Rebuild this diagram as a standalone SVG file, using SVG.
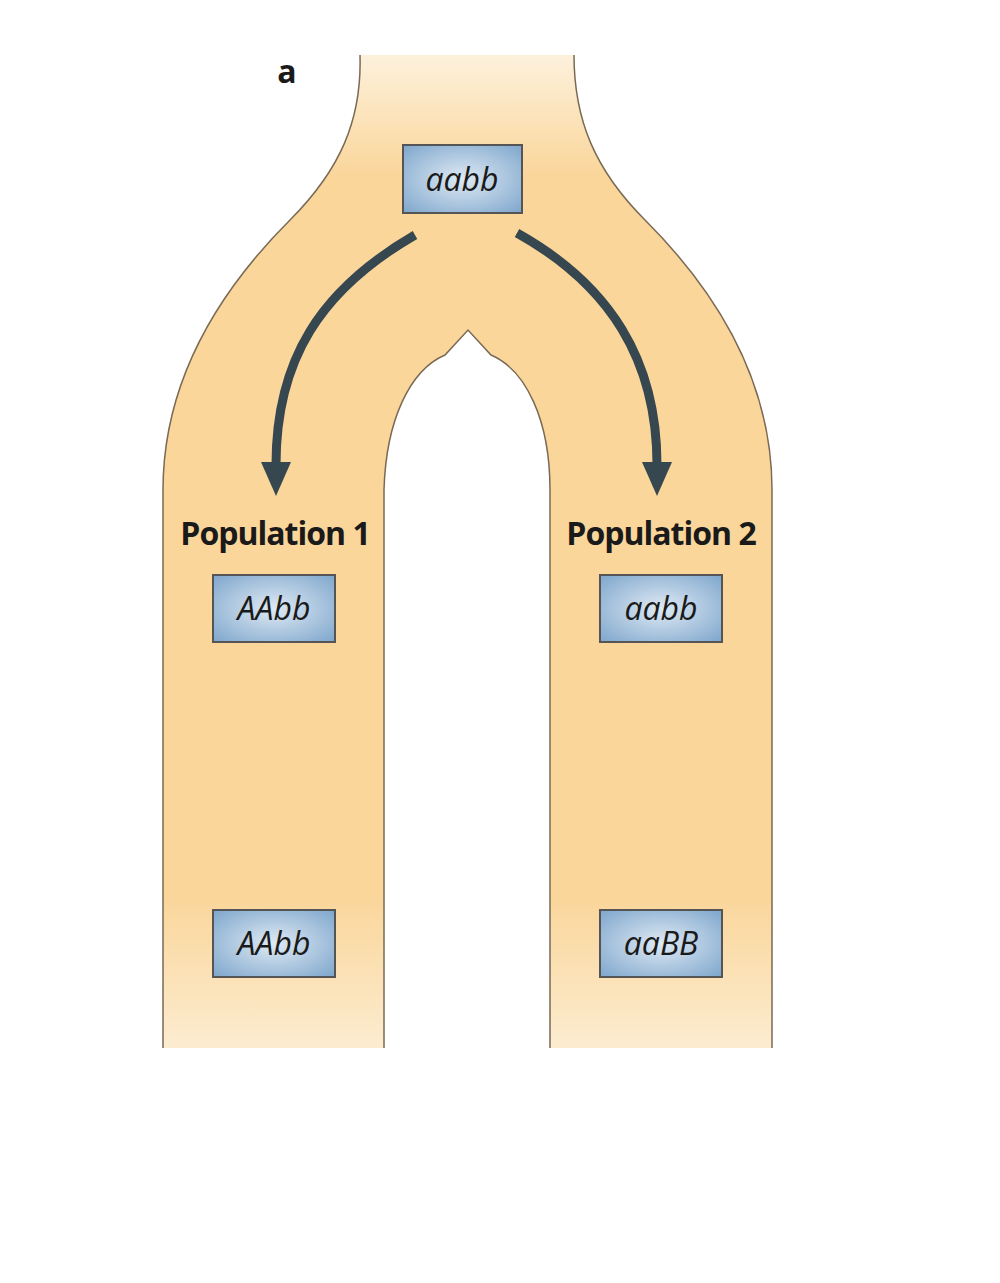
<svg xmlns="http://www.w3.org/2000/svg" width="1000" height="1283" viewBox="0 0 1000 1283">
<defs>
<linearGradient id="bg" x1="0" y1="0" x2="0" y2="1">
<stop offset="0" stop-color="#fdf1dc"/>
<stop offset="0.12" stop-color="#fad69b"/>
<stop offset="0.85" stop-color="#fad69b"/>
<stop offset="1" stop-color="#fcecd0"/>
</linearGradient>
<radialGradient id="box" cx="0.5" cy="0.5" r="0.7">
<stop offset="0" stop-color="#dfeaf4"/>
<stop offset="1" stop-color="#7ea6cc"/>
</radialGradient>
<marker id="ah" markerWidth="10" markerHeight="10" refX="3" refY="5" orient="auto" markerUnits="userSpaceOnUse" viewBox="0 0 10 10">
</marker>
<style>
.b{fill:url(#box);stroke:#555;stroke-width:2}
.t{font-family:"Open Sans","Liberation Sans",sans-serif;font-style:italic;font-size:32px;fill:#1a1a1a;text-anchor:middle}
.p{font-family:"Open Sans","Liberation Sans",sans-serif;font-weight:bold;font-size:32px;fill:#1a1a1a;text-anchor:middle;letter-spacing:-1px}
.e{fill:none;stroke:#7a6a55;stroke-width:1.5}
.a{fill:none;stroke:#37474f;stroke-width:9}
</style>
</defs>
<g id="shape">
<path d="M360,55 C362,120 340,170 290,220 C200,310 163,400 163,490 L163,1048 L384,1048 L384,490 C386,420 410,370 445,355 L468,330 L491,355 C526,370 550,420 550,490 L550,1048 L772,1048 L772,490 C772,400 735,310 645,220 C595,170 574,120 574,55 Z" fill="url(#bg)"/>
<path class="e" d="M360,55 C362,120 340,170 290,220 C200,310 163,400 163,490 L163,1048"/>
<path class="e" d="M384,1048 L384,490 C386,420 410,370 445,355 L468,330 L491,355 C526,370 550,420 550,490 L550,1048"/>
<path class="e" d="M772,1048 L772,490 C772,400 735,310 645,220 C595,170 574,120 574,55"/>
</g>
<text x="287" y="83" font-family="Open Sans, Liberation Sans, sans-serif" font-weight="bold" font-size="32" fill="#1a1a1a" text-anchor="middle">a</text>
<g id="connectors">
<path class="a" d="M415,235 C320,290 276,360 276,465"/>
<polygon points="261,462 291,462 276,496" fill="#37474f"/>
<path class="a" d="M517,233 C610,285 657,360 657,465"/>
<polygon points="642,462 672,462 657,496" fill="#37474f"/>
</g>
<g id="n0"><rect class="b" x="403" y="145" width="119" height="68"/><text class="t" x="462" y="191">aabb</text></g>
<text class="p" x="275" y="545">Population 1</text>
<text class="p" x="661" y="545">Population 2</text>
<g id="n1"><rect class="b" x="213" y="575" width="122" height="67"/><text class="t" x="274" y="620">AAbb</text></g>
<g id="n2"><rect class="b" x="600" y="575" width="122" height="67"/><text class="t" x="661" y="620">aabb</text></g>
<g id="n3"><rect class="b" x="213" y="910" width="122" height="67"/><text class="t" x="274" y="955">AAbb</text></g>
<g id="n4"><rect class="b" x="600" y="910" width="122" height="67"/><text class="t" x="661" y="955">aaBB</text></g>
</svg>
